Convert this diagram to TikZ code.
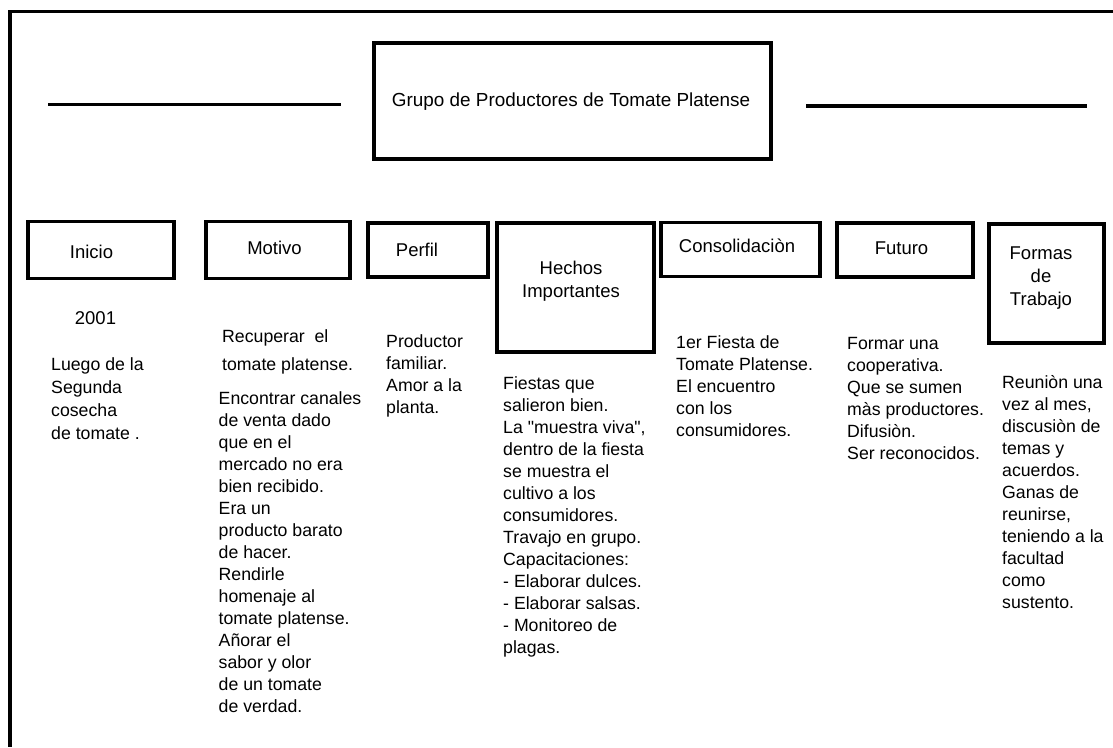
\documentclass[tikz,border=0pt]{standalone}
\usepackage{fontspec}
\setmainfont{Liberation Sans}[Ligatures=TeXReset]
\begin{document}
\begin{tikzpicture}[x=1pt,y=-1pt,
  frame/.style={line width=3.2pt},
  box/.style={draw, line width=3.2pt, rectangle, inner sep=0pt},
  lbl/.style={inner sep=0pt, align=center, font=\fontsize{18.5}{23}\selectfont},
  txt/.style={anchor=north west, inner sep=0pt, align=left, font=\fontsize{17.7}{22}\selectfont}]
\useasboundingbox (0,0) rectangle (1113,747);
% outer frame
\draw[frame] (1113,11.5) -- (10,11.5) -- (10,747);
% decorative lines
\draw[frame] (48,104.5) -- (341,104.5);
\draw[frame] (806,106) -- (1087,106);
% title
\node[box, minimum width=397pt, minimum height=116pt] (title) at (572.5,101) {};
\node[lbl, font=\fontsize{18.9}{23}\selectfont] (titletext) at (571,102) {Grupo de Productores de Tomate Platense};
% category boxes
\node[box, minimum width=146pt, minimum height=57pt] (inicio) at (101,250) {};
\node[lbl] (inicioL) at (91.5,252) {Inicio};
\node[box, minimum width=144pt, minimum height=57pt] (motivo) at (278,250) {};
\node[lbl] (motivoL) at (274.5,248) {Motivo};
\node[box, minimum width=120pt, minimum height=54pt] (perfil) at (428,250) {};
\node[lbl] (perfilL) at (417,250) {Perfil};
\node[box, minimum width=157pt, minimum height=129pt] (hechos) at (575.5,287.5) {};
\node[lbl] (hechosL) at (571,281) {Hechos\\Importantes};
\node[box, minimum width=159pt, minimum height=54pt] (consol) at (740.5,249.5) {};
\node[lbl] (consolL) at (737,246) {Consolidaciòn};
\node[box, minimum width=136pt, minimum height=54pt] (futuro) at (905,250) {};
\node[lbl] (futuroL) at (901.5,248) {Futuro};
\node[box, minimum width=115pt, minimum height=119pt] (formas) at (1046.5,283.5) {};
\node[lbl] (formasL) at (1041,278) {Formas\\de\\Trabajo};
% texts
\node[lbl] (anio) at (95.5,318) {2001};
\node[txt, font=\fontsize{17.7}{23}\selectfont] (inicioT) at (51,357) {Luego de la\\Segunda\\cosecha\\de tomate .};
\node[txt, font=\fontsize{17.7}{28}\selectfont] (motivoT1) at (222,329) {Recuperar\ \ el\\tomate platense.};
\node[txt] (motivoT2) at (218.5,391) {Encontrar canales\\de venta dado\\que en el\\mercado no era\\bien recibido.\\Era un\\producto barato\\de hacer.\\Rendirle\\homenaje al\\tomate platense.\\Añorar el\\sabor y olor\\de un tomate\\de verdad.};
\node[txt] (perfilT) at (386,334) {Productor\\familiar.\\Amor a la\\planta.};
\node[txt] (hechosT) at (503,376) {Fiestas que\\salieron bien.\\La "muestra viva",\\dentro de la fiesta\\se muestra el\\cultivo a los\\consumidores.\\Travajo en grupo.\\Capacitaciones:\\- Elaborar dulces.\\- Elaborar salsas.\\- Monitoreo de\\plagas.};
\node[txt] (consolT) at (676,335) {1er Fiesta de\\Tomate Platense.\\El encuentro\\con los\\consumidores.};
\node[txt] (futuroT) at (847,337) {Formar una\\cooperativa.\\Que se sumen\\màs productores.\\Difusiòn.\\Ser reconocidos.};
\node[txt] (formasT) at (1002,375) {Reuniòn una\\vez al mes,\\discusiòn de\\temas y\\acuerdos.\\Ganas de\\reunirse,\\teniendo a la\\facultad\\como\\sustento.};
\end{tikzpicture}
\end{document}
